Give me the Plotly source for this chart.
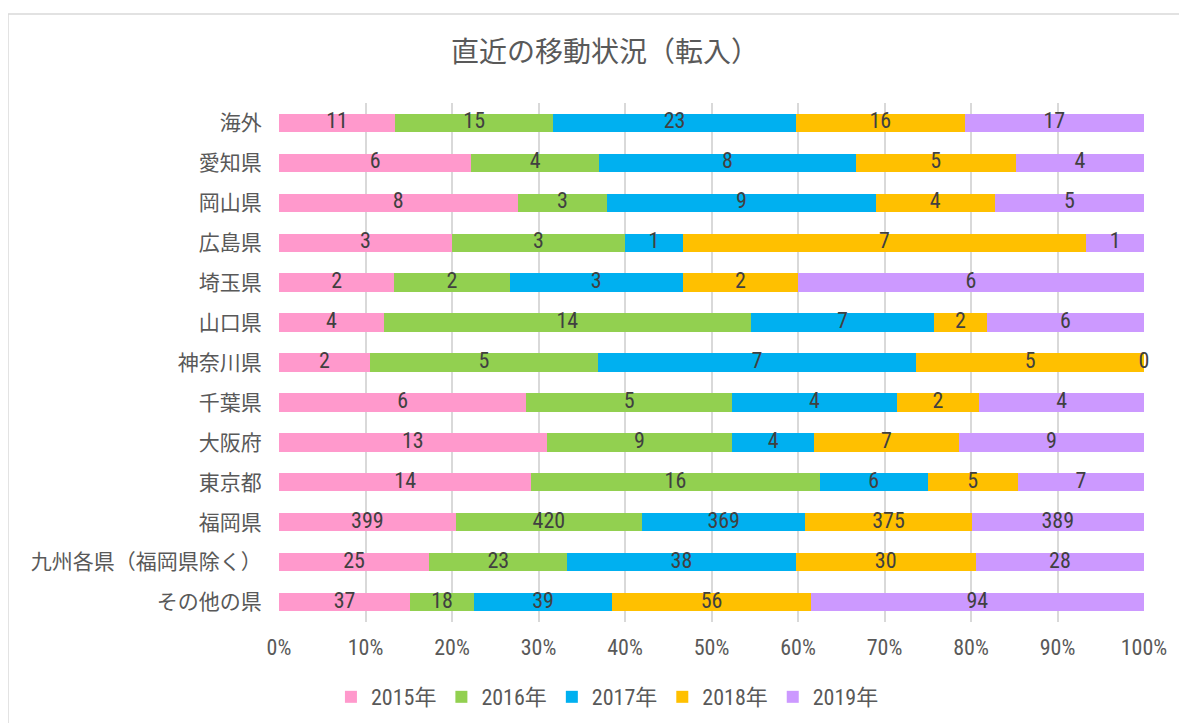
import plotly.graph_objects as go

categories = ["海外", "愛知県", "岡山県", "広島県", "埼玉県", "山口県", "神奈川県",
              "千葉県", "大阪府", "東京都", "福岡県", "九州各県（福岡県除く）", "その他の県"]
years = ["2015年", "2016年", "2017年", "2018年", "2019年"]
v2015 = [11, 6, 8, 3, 2, 4, 2, 6, 13, 14, 399, 25, 37]
v2016 = [15, 4, 3, 3, 2, 14, 5, 5, 9, 16, 420, 23, 18]
v2017 = [23, 8, 9, 1, 3, 7, 7, 4, 4, 6, 369, 38, 39]
v2018 = [16, 5, 4, 7, 2, 2, 5, 2, 7, 5, 375, 30, 56]
v2019 = [17, 4, 5, 1, 6, 6, 0, 4, 9, 7, 389, 28, 94]
series = [v2015, v2016, v2017, v2018, v2019]
colors = ["#FF99CC", "#92D050", "#00B0F0", "#FFC000", "#CC99FF"]

FONT = ("Liberation Sans Narrow, Arial Narrow, Roboto Condensed, Archivo Narrow, "
        "PT Sans Narrow, Noto Sans CJK JP, sans-serif")
JFONT = "Noto Sans CJK JP, sans-serif"

totals = [sum(s[i] for s in series) for i in range(len(categories))]

fig = go.Figure()
for name, vals, col in zip(years, series, colors):
    fig.add_trace(go.Bar(
        y=categories, x=vals, name=name, orientation="h",
        marker=dict(color=col, line=dict(width=0)),
        hovertemplate="%{y}<br>" + name + ": %{x}<extra></extra>",
    ))

# data labels centred on each stacked segment (positions derived from the data)
lx, ly, lt = [], [], []
for si, vals in enumerate(series):
    for i, v in enumerate(vals):
        before = sum(series[k][i] for k in range(si))
        lx.append(100.0 * (before + v / 2.0) / totals[i])
        ly.append(categories[i])
        lt.append(str(v))
fig.add_trace(go.Scatter(x=lx, y=ly, text=lt, mode="text", showlegend=False,
                         textposition="middle center", cliponaxis=False, hoverinfo="skip",
                         textfont=dict(family=FONT, size=22, color="#404040")))

fig.update_layout(
    barmode="stack", barnorm="percent", bargap=0.54,
    width=1187, height=723,
    margin=dict(l=271, r=51, t=95, b=109),
    paper_bgcolor="white", plot_bgcolor="white",
    title=dict(text="直近の移動状況（転入）", x=0.503, xanchor="center", y=0.939, yanchor="middle",
               font=dict(family=JFONT, size=28, color="#595959")),
    font=dict(family=FONT, color="#595959"),
    legend=dict(orientation="h", xref="container", x=0.505, xanchor="center",
                yref="container", y=0.047, yanchor="middle",
                font=dict(family=FONT, size=22, color="#595959"), traceorder="normal",
                itemwidth=30),
    showlegend=True,
)
fig.update_xaxes(range=[0, 100], dtick=10, ticksuffix="%", showgrid=True,
                 gridcolor="#D9D9D9", gridwidth=1.5, zeroline=False,
                 tickfont=dict(family=FONT, size=22, color="#595959"),
                 ticks="outside", ticklen=6, tickcolor="rgba(0,0,0,0)", fixedrange=True)
fig.update_yaxes(range=[len(categories) - 0.5, -0.5], autorange=False,
                 categoryorder="array", categoryarray=categories,
                 tickfont=dict(family=JFONT, size=21, color="#595959"),
                 ticks="outside", ticklen=12, tickcolor="rgba(0,0,0,0)", showline=False)

fig.add_shape(type="line", xref="paper", yref="paper", x0=-0.3133, x1=1.06, y0=1.1715, y1=1.1715,
              line=dict(color="#D9D9D9", width=1.5))
fig.add_shape(type="line", xref="paper", yref="paper", x0=-0.3133, x1=-0.3133, y0=1.1715, y1=-0.2,
              line=dict(color="#D9D9D9", width=1.5))

fig.write_html("out.html")
